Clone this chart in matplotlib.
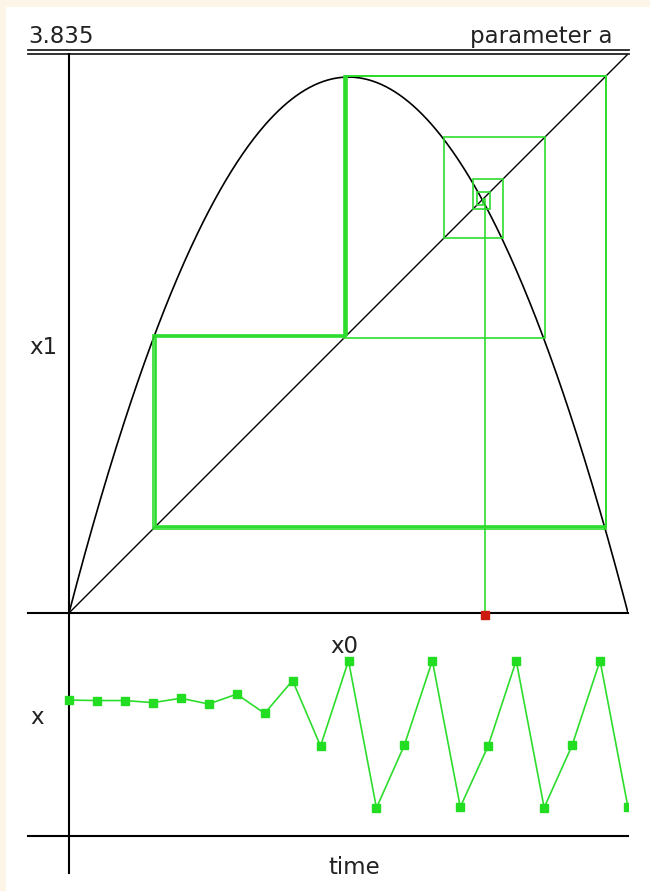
import numpy as np
import matplotlib
matplotlib.use("Agg")
import matplotlib.pyplot as plt
from matplotlib.patches import Rectangle

# ---- data ----
A_PARAM = 3.835
param_label = "3.835"
series = [0.744, 0.7415, 0.7415, 0.730, 0.754, 0.7225, 0.7765, 0.671, 0.8515,
          0.4915, 0.9606, 0.1510, 0.4970, 0.9608, 0.1565, 0.4935, 0.9606,
          0.1530, 0.4952, 0.9607, 0.1547]
time_steps = list(range(len(series)))

GREEN = "#2ddd2d"
GREEN_M = "#22dd22"
RED = "#cc1a10"
TXT = "#222222"
CREAM = "#fdf5e8"

W, H = 650, 891
fig = plt.figure(figsize=(W / 100, H / 100), dpi=100)
fig.patch.set_facecolor("white")

def fx(px):
    return px / W

def fy(py):
    return 1 - py / H

# cream border strips (top and left)
fig.add_artist(Rectangle((0, fy(7)), 1, 7 / H, transform=fig.transFigure,
                         color=CREAM, lw=0, zorder=0))
fig.add_artist(Rectangle((0, 0), 6 / W, 1, transform=fig.transFigure,
                         color=CREAM, lw=0, zorder=0))

# ---- main cobweb axes ----
U = 559.0  # px per unit
ax = fig.add_axes([fx(28), fy(613), 600 / W, 563 / H])
xl = -41 / U
ax.set_xlim(xl, 1)
ax.set_ylim(0, 563 / U)
ax.axis("off")

# axis lines
ax.plot([xl, 1], [0, 0], color="black", lw=1.5, clip_on=False, zorder=4)
ax.plot([xl, 1 + 1 / U], [1.0, 1.0], color="#222222", lw=1.3, clip_on=False, zorder=4)
ax.plot([xl, 1 + 1 / U], [1.0065, 1.0065], color="#222222", lw=1.3, clip_on=False, zorder=4)
ax.plot([0, 0], [1.0, (613 - 873) / U], color="black", lw=1.5, clip_on=False, zorder=4)

# diagonal and map curve
ax.plot([0, 1], [0, 1], color="black", lw=1.0, zorder=2)
xs = np.linspace(0, 1, 500)
ax.plot(xs, A_PARAM * xs * (1 - xs), color="black", lw=1.2, zorder=2)

# cobweb from the iterates
cx = [series[0]]
cy = [0.0]
for n in range(len(series) - 1):
    cx.append(series[n]); cy.append(series[n + 1])
    cx.append(series[n + 1]); cy.append(series[n + 1])
ax.plot(cx, cy, color=GREEN, lw=1.2, zorder=3, solid_joinstyle="miter")

# starting point marker
ax.plot([series[0]], [-0.004], marker="s", color=RED, ms=6, clip_on=False, zorder=6,
        linestyle="none")

# ---- time series axes ----
ax2 = fig.add_axes([fx(28), fy(873), 600 / W, 260 / H])
step = U / 20
ax2.set_xlim(-41 / step, 20)
ax2.set_ylim(-(873 - 835.5) / 182, (835.5 - 613) / 182)
ax2.axis("off")
ax2.plot([-41 / step, 20], [0, 0], color="black", lw=1.5, clip_on=False)
ax2.plot(time_steps, series, color=GREEN, lw=1.2, marker="s", ms=6.3,
         mfc=GREEN_M, mec=GREEN_M, zorder=3)

# ---- texts ----
fs = 16.5
fig.text(fx(28), fy(43), param_label, fontsize=fs, color=TXT, va="baseline", ha="left")
fig.text(fx(612), fy(43), "parameter a", fontsize=fs, color=TXT, va="baseline", ha="right")
fig.text(fx(29), fy(354), "x1", fontsize=fs, color=TXT, va="baseline", ha="left")
fig.text(fx(330), fy(653), "x0", fontsize=fs, color=TXT, va="baseline", ha="left")
fig.text(fx(30), fy(724), "x", fontsize=fs, color=TXT, va="baseline", ha="left")
fig.text(fx(328), fy(874), "time", fontsize=fs, color=TXT, va="baseline", ha="left")

fig.savefig("out.png", dpi=100, facecolor=fig.get_facecolor())
